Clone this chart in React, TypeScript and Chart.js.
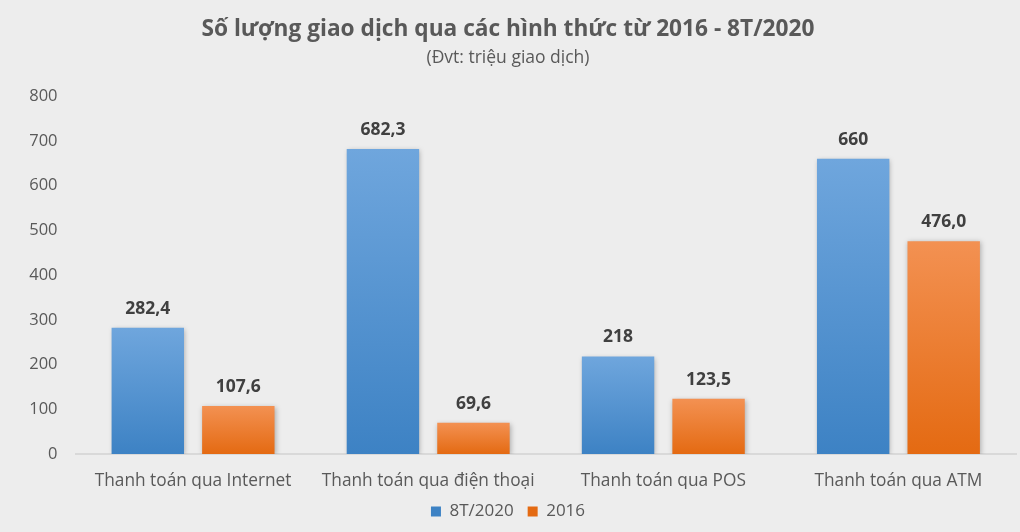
import { useEffect, useRef } from 'react';
import { Chart, registerables } from 'chart.js';

Chart.register(...registerables);

const categories = [
  'Thanh toán qua Internet',
  'Thanh toán qua điện thoại',
  'Thanh toán qua POS',
  'Thanh toán qua ATM',
];
const values2020 = [282.4, 682.3, 218, 660];
const values2016 = [107.6, 69.6, 123.5, 476.0];
const labels2020 = ['282,4', '682,3', '218', '660'];
const labels2016 = ['107,6', '69,6', '123,5', '476,0'];

const FONT = "'Open Sans', sans-serif";

// gradient per bar, lighter at the top
function barGradient(top: string, bottom: string) {
  return (ctx: any) => {
    const chart = ctx.chart;
    const y = chart.scales?.y;
    if (!chart.chartArea || !y || ctx.parsed == null) return bottom;
    const yTop = y.getPixelForValue(ctx.parsed.y);
    const yBase = y.getPixelForValue(0);
    const g = chart.ctx.createLinearGradient(0, yTop, 0, yBase);
    g.addColorStop(0, top);
    g.addColorStop(1, bottom);
    return g;
  };
}

const shadowPlugin = {
  id: 'barShadow',
  beforeDatasetsDraw(chart: any) {
    const c = chart.ctx;
    c.save();
    c.shadowColor = 'rgba(0,0,0,0.28)';
    c.shadowBlur = 5;
    c.shadowOffsetX = 1;
    c.shadowOffsetY = 1;
  },
  afterDatasetsDraw(chart: any) {
    chart.ctx.restore();
  },
};

const valueLabels = {
  id: 'valueLabels',
  afterDraw(chart: any) {
    const c = chart.ctx;
    const texts = [labels2020, labels2016];
    c.save();
    c.font = `bold 17.5px ${FONT}`;
    c.fillStyle = '#404040';
    c.textAlign = 'center';
    c.textBaseline = 'middle';
    chart.data.datasets.forEach((_: any, di: number) => {
      chart.getDatasetMeta(di).data.forEach((bar: any, i: number) => {
        c.fillText(texts[di][i], bar.x, bar.y - 19);
      });
    });
    c.restore();
  },
};

export default function App() {
  const chartRef = useRef<HTMLCanvasElement>(null);

  useEffect(() => {
    document.body.style.margin = '0';
    if (!chartRef.current) return;
    const ctx = chartRef.current.getContext('2d');
    if (!ctx) return;

    const chart = new Chart(ctx, {
      type: 'bar',
      data: {
        labels: categories,
        datasets: [
          {
            label: '8T/2020',
            data: values2020,
            backgroundColor: barGradient('#6fa6dd', '#3d82c4'),
            categoryPercentage: 0.77,
            barPercentage: 0.8,
          },
          {
            label: '2016',
            data: values2016,
            backgroundColor: barGradient('#f39152', '#e46a12'),
            categoryPercentage: 0.77,
            barPercentage: 0.8,
          },
        ],
      },
      options: {
        responsive: false,
        animation: false,
        layout: { padding: { left: 0, right: 4, top: 0, bottom: 2 } },
        plugins: {
          title: {
            display: true,
            text: 'Số lượng giao dịch qua các hình thức từ 2016 - 8T/2020',
            color: '#595959',
            font: { family: FONT, size: 22.7, weight: 'bold' },
            padding: { top: 16, bottom: 4 },
          },
          subtitle: {
            display: true,
            text: '(Đvt: triệu giao dịch)',
            color: '#595959',
            font: { family: FONT, size: 17.5 },
            padding: { top: 0, bottom: 28 },
          },
          legend: {
            position: 'bottom',
            labels: {
              color: '#595959',
              font: { family: FONT, size: 17 },
              boxWidth: 10,
              boxHeight: 10,
              padding: 14,
            },
          },
          tooltip: { enabled: false },
        },
        scales: {
          x: {
            grid: { display: false, drawTicks: false },
            border: { display: true, color: '#d9d9d9', width: 2 },
            ticks: {
              color: '#595959',
              font: { family: FONT, size: 17.3 },
              padding: 17,
              maxRotation: 0,
            },
            afterFit(scale: any) {
              scale.height = 35;
            },
          },
          y: {
            min: 0,
            max: 800,
            grid: { display: false, drawTicks: false },
            border: { display: false },
            ticks: {
              stepSize: 100,
              color: '#595959',
              font: { family: FONT, size: 16.5 },
              padding: 18,
            },
            afterFit(scale: any) {
              scale.width = 75.5;
            },
          },
        },
      },
      plugins: [shadowPlugin, valueLabels],
    });

    return () => chart.destroy();
  }, []);

  return (
    <div style={{ width: 1020, height: 532, background: '#ededed' }}>
      <canvas ref={chartRef} width={1020} height={532} />
    </div>
  );
}
